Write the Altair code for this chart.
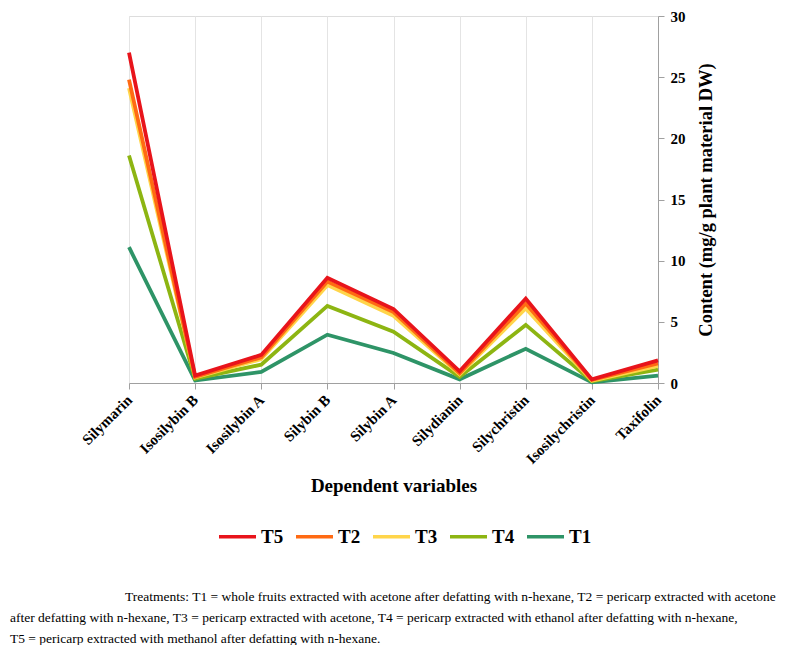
import altair as alt
import pandas as pd

categories = ["Silymarin", "Isosilybin B", "Isosilybin A", "Silybin B", "Silybin A",
              "Silydianin", "Silychristin", "Isosilychristin", "Taxifolin"]
T5 = [27.0, 0.6, 2.3, 8.6, 6.05, 0.95, 6.9, 0.3, 1.85]
T2 = [24.8, 0.5, 2.1, 8.3, 5.8, 0.8, 6.5, 0.25, 1.6]
T3 = [24.1, 0.45, 1.95, 8.0, 5.5, 0.7, 6.1, 0.2, 1.4]
T4 = [18.6, 0.35, 1.5, 6.3, 4.2, 0.5, 4.75, 0.15, 1.1]
T1 = [11.1, 0.2, 0.9, 3.95, 2.45, 0.3, 2.8, 0.05, 0.6]

series_names = ["T5", "T2", "T3", "T4", "T1"]
series_colors = ["#e8141b", "#ff6a13", "#ffd54a", "#8db512", "#2e9467"]
series_values = {"T5": T5, "T2": T2, "T3": T3, "T4": T4, "T1": T1}
draw_order = ["T1", "T4", "T3", "T2", "T5"]

footer_lines = [
    "Treatments: T1 = whole fruits extracted with acetone after defatting with n-hexane, T2 = pericarp extracted with acetone",
    "after defatting with n-hexane, T3 = pericarp extracted with acetone, T4 = pericarp extracted with ethanol after defatting with n-hexane,",
    "T5 = pericarp extracted with methanol after defatting with n-hexane.",
]

rows = []
for s in draw_order:
    for c, v in zip(categories, series_values[s]):
        rows.append({"variable": c, "treatment": s, "value": v})
df = pd.DataFrame(rows)

FONT = "Liberation Serif"
W, H = 529, 367

lines = alt.Chart(df).mark_line(strokeWidth=3.8).encode(
    x=alt.X("variable:N", sort=categories, scale=alt.Scale(padding=0),
            axis=alt.Axis(title="Dependent variables", labelAngle=-45, labelAlign="right",
                          labelBaseline="middle", labelFont=FONT, labelFontWeight="bold",
                          labelFontSize=15, labelColor="black", labelPadding=8,
                          titleFont=FONT, titleFontWeight="bold", titleFontSize=19,
                          titleColor="black", titleY=102, titleBaseline="middle",
                          grid=True, gridColor="#e4e4e4", domainColor="#a0a0a0",
                          tickColor="#a0a0a0", tickSize=6)),
    y=alt.Y("value:Q", scale=alt.Scale(domain=[0, 30], nice=False),
            axis=alt.Axis(orient="right", values=[0, 5, 10, 15, 20, 25, 30], grid=False,
                          title="Content (mg/g plant material DW)", titleAngle=270,
                          titleFont=FONT, titleFontWeight="bold", titleFontSize=18.5,
                          titleColor="black", titlePadding=30,
                          labelFont=FONT, labelFontWeight="bold", labelFontSize=15,
                          labelColor="black", labelPadding=6,
                          domainColor="#a0a0a0", tickColor="#a0a0a0", tickSize=6)),
    color=alt.Color("treatment:N", scale=alt.Scale(domain=series_names, range=series_colors),
                    legend=alt.Legend(title=None, orient="none", legendX=88, legendY=500,
                                      direction="horizontal", symbolType="stroke",
                                      symbolSize=1369, symbolStrokeWidth=3.5,
                                      labelFont=FONT, labelFontWeight="bold",
                                      labelFontSize=19, labelColor="black",
                                      labelOffset=3, columnPadding=5)),
)

footer_layers = []
footer_pos = [(-4, 581), (-119, 602), (-119, 623)]
for txt, (xx, yy) in zip(footer_lines, footer_pos):
    footer_layers.append(
        alt.Chart(pd.DataFrame({"t": [txt]})).mark_text(
            align="left", baseline="middle", font=FONT, fontSize=13.5, color="black"
        ).encode(text="t:N", x=alt.value(xx), y=alt.value(yy))
    )

chart = alt.layer(lines, *footer_layers).properties(
    width=W, height=H,
    autosize=alt.AutoSizeParams(type="none"),
    padding={"left": 121, "top": 8, "right": 130, "bottom": 262},
).configure_view(stroke="#a0a0a0", strokeWidth=1).configure(background="white")

chart.save("out.html", embed_options={"renderer": "svg", "actions": False})
